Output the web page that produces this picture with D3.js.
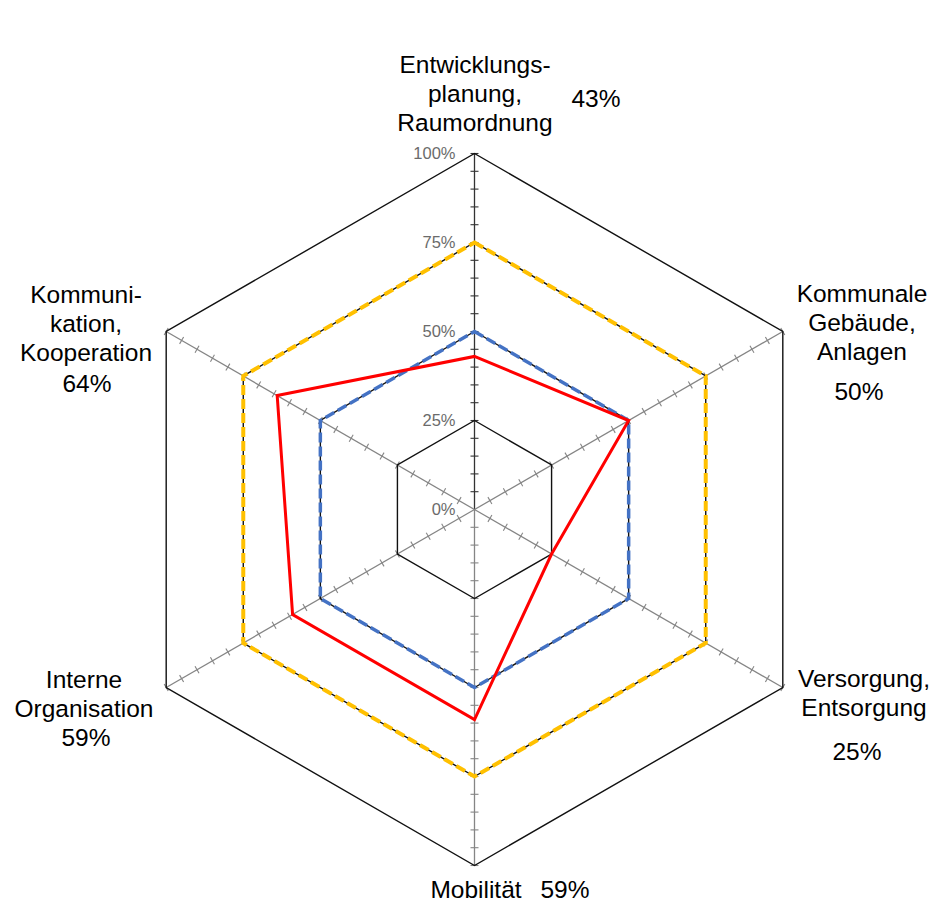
<!DOCTYPE html>
<html>
<head>
<meta charset="utf-8">
<script src="https://cdn.jsdelivr.net/npm/d3@7"></script>
<style>
body { margin: 0; background: #fff; }
svg { display: block; }
</style>
</head>
<body>
<script>
// categories, clockwise from the top
var categories = [
  ["Entwicklungs-", "planung,", "Raumordnung"],
  ["Kommunale", "Gebäude,", "Anlagen"],
  ["Versorgung,", "Entsorgung"],
  ["Mobilität"],
  ["Interne", "Organisation"],
  ["Kommuni-", "kation,", "Kooperation"]
];
var ist = [43, 50, 25, 59, 59, 64];
var mittel = [50, 50, 50, 50, 50, 50];
var ziel = [75, 75, 75, 75, 75, 75];
var gridLevels = [25, 50, 75, 100];
var tickValues = [0, 25, 50, 75, 100];
var tickLabels = ["0%", "25%", "50%", "75%", "100%"];
var valueLabels = ["43%", "50%", "25%", "59%", "59%", "64%"];

// label placement (centre x, first baseline y, value label x / y)
var labelPos = [
  {x: 475, y: 73, vx: 596, vy: 107},
  {x: 862, y: 302, vx: 859, vy: 400},
  {x: 864, y: 687, vx: 857, vy: 760},
  {x: 476, y: 898, vx: 565, vy: 898},
  {x: 84, y: 688, vx: 86, vy: 746},
  {x: 86, y: 303, vx: 87, vy: 392}
];

var W = 936, H = 906,
    cx = 474.5, cy = 509.5, R = 356,
    lineStep = 29;

var svg = d3.select("body").append("svg")
    .attr("width", W)
    .attr("height", H);

var r = d3.scaleLinear().domain([0, 100]).range([0, R]);
var angle = function(i) { return i * 2 * Math.PI / categories.length; };

var g = svg.append("g")
    .attr("transform", "translate(" + cx + "," + cy + ")");

function px(i, v) { return r(v) * Math.sin(angle(i)); }
function py(i, v) { return -r(v) * Math.cos(angle(i)); }

// spokes
categories.forEach(function(c, i) {
  g.append("line")
    .attr("x1", 0).attr("y1", 0)
    .attr("x2", px(i, 100)).attr("y2", py(i, 100))
    .attr("stroke", i == 0 ? "#333" : "#858585")
    .attr("stroke-width", 1.3);

  // minor ticks every 5%
  r.ticks(20).filter(function(t) { return t > 0; }).forEach(function(t) {
    var a = angle(i), x = px(i, t), y = py(i, t),
        dx = 4 * Math.cos(a), dy = 4 * Math.sin(a);
    g.append("line")
      .attr("x1", x - dx).attr("y1", y - dy)
      .attr("x2", x + dx).attr("y2", y + dy)
      .attr("stroke", i == 0 ? "#333" : "#858585")
      .attr("stroke-width", 1.1);
  });
});

var radial = d3.lineRadial()
    .angle(function(d, i) { return angle(i); })
    .radius(function(d) { return r(d); })
    .curve(d3.curveLinearClosed);

// gridlines
gridLevels.forEach(function(lv) {
  g.append("path")
    .attr("d", radial(categories.map(function() { return lv; })))
    .attr("fill", "none")
    .attr("stroke", "#111")
    .attr("stroke-width", 1.4);
});

// series
g.append("path")
  .attr("d", radial(ziel))
  .attr("fill", "none")
  .attr("stroke", "#FFC000")
  .attr("stroke-width", 4)
  .attr("stroke-dasharray", "10,4");

g.append("path")
  .attr("d", radial(mittel))
  .attr("fill", "none")
  .attr("stroke", "#4472C4")
  .attr("stroke-width", 3.5)
  .attr("stroke-dasharray", "10,4");

g.append("path")
  .attr("d", radial(ist))
  .attr("fill", "none")
  .attr("stroke", "#FF0000")
  .attr("stroke-width", 3)
  .attr("stroke-linejoin", "miter");

// value axis labels
g.selectAll(".tl")
  .data(tickValues)
  .enter().append("text")
  .attr("class", "tl")
  .attr("x", -19)
  .attr("y", function(d) { return -r(d); })
  .attr("dy", "0.35em")
  .attr("text-anchor", "end")
  .style("font-family", "Liberation Sans, Arial, sans-serif")
  .style("font-size", "16.5px")
  .style("fill", "#6b6b6b")
  .text(function(d, i) { return tickLabels[i]; });

// category labels
categories.forEach(function(lines, i) {
  var p = labelPos[i];
  var t = svg.append("text")
    .attr("text-anchor", "middle")
    .style("font-family", "Liberation Sans, Arial, sans-serif")
    .style("font-size", "24.5px")
    .style("fill", "#000");
  lines.forEach(function(l, j) {
    t.append("tspan")
      .attr("x", p.x)
      .attr("y", p.y + j * lineStep)
      .text(l);
  });
  svg.append("text")
    .attr("x", p.vx)
    .attr("y", p.vy)
    .attr("text-anchor", "middle")
    .style("font-family", "Liberation Sans, Arial, sans-serif")
    .style("font-size", "24.5px")
    .style("fill", "#000")
    .text(valueLabels[i]);
});
</script>
</body>
</html>
